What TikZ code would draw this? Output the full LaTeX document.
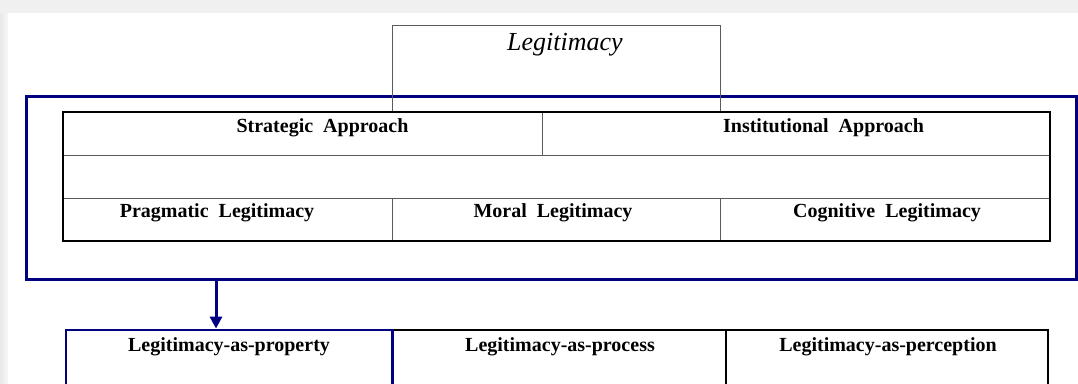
\documentclass[tikz,border=0pt]{standalone}
\usepackage{fontspec}
\setmainfont{Liberation Serif}
\usetikzlibrary{arrows.meta}

\definecolor{navy}{RGB}{0,0,128}
\definecolor{edge}{RGB}{90,90,90}

\tikzset{
	lbl/.style={anchor=base, inner sep=0pt, font=\fontsize{20bp}{24bp}\selectfont\bfseries},
	thinbox/.style={draw=edge, line width=0.9bp, inner sep=0pt},
}

\begin{document}
\begin{tikzpicture}[x=1bp, y=-1bp]
		\useasboundingbox (0, 0) rectangle (1078, 383);
		\clip (0, 0) rectangle (1078, 383);

		% sfondo
		\fill[black!6] (0, 0) rectangle (1078, 383);
		\shade[left color=black!9, right color=black!3] (0, 13) rectangle (8, 383);
		\fill[white] (8, 13) rectangle (1078, 383);

		\coordinate (tl) at (63, 112);
		\coordinate (br) at (1050, 241);
		\coordinate (a) at (216, 0);

		% riquadro blu
		\node[draw=navy, line width=3bp, inner sep=0pt, minimum width=1049bp, minimum height=183bp] (approaches) at (551.5, 187.5) {};

		% legitimacy
		\node[thinbox, minimum width=328bp, minimum height=87bp] (legit) at (556, 68.5) {};
		\node[anchor=base, inner sep=0pt, font=\fontsize{26bp}{30bp}\selectfont\itshape] (legittxt) at (565, 50) {Legitimacy};

		% tabella
		\fill[white] (tl) rectangle (br);
		\draw[edge, line width=1bp] (63, 155) -- (1050, 155);
		\draw[edge, line width=1bp] (63, 198) -- (1050, 198);
		\draw[edge, line width=1bp] (542, 112) -- (542, 155);
		\draw[edge, line width=1bp] (392, 198) -- (392, 241);
		\draw[edge, line width=1bp] (720, 198) -- (720, 241);
		\draw[line width=2.2bp] (tl) rectangle (br);

		\node[lbl] (strat) at (322.5, 132.5) {Strategic\ \ Approach};
		\node[lbl] (inst) at (823.5, 132.5) {Institutional\ \ Approach};
		\node[lbl] (prag) at (217, 217) {Pragmatic\ \ Legitimacy};
		\node[lbl] (moral) at (553, 217) {Moral\ \ Legitimacy};
		\node[lbl] (cogn) at (887, 217) {Cognitive\ \ Legitimacy};

		% riga in basso
		\node[draw, line width=1.6bp, inner sep=0pt, minimum width=333.5bp, minimum height=80bp] (process) at (559.25, 370) {};
		\node[draw, line width=1.6bp, inner sep=0pt, minimum width=322bp, minimum height=80bp] (perception) at (887, 370) {};
		\node[draw=navy, line width=2.8bp, inner sep=0pt, minimum width=326.5bp, minimum height=80bp] (prop) at (229.25, 370) {};

		\node[lbl] (proptxt) at (229, 351) {Legitimacy-as-property};
		\node[lbl] (proctxt) at (560, 351) {Legitimacy-as-process};
		\node[lbl] (perctxt) at (888, 351) {Legitimacy-as-perception};

		% freccia
		\draw[navy, line width=3bp, -{Triangle[length=12bp, width=12bp]}] (approaches.south -| a) -- (prop.north -| a);
	\end{tikzpicture}
\end{document}
